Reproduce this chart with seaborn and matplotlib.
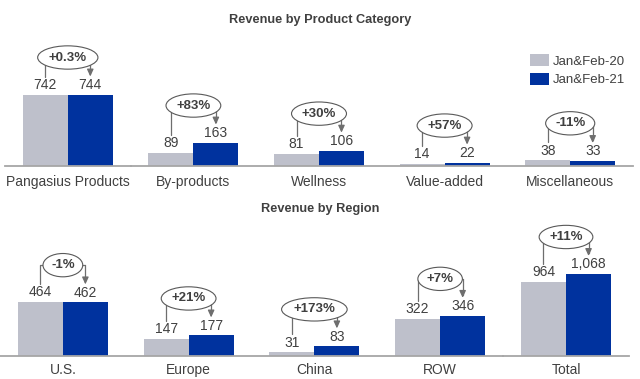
import matplotlib
matplotlib.use("Agg")
import matplotlib.pyplot as plt
import numpy as np
import pandas as pd
import seaborn as sns
from matplotlib.lines import Line2D
from matplotlib.patches import Patch

# ---------------- data ----------------
periods = ["Jan&Feb-20", "Jan&Feb-21"]
products = ["Pangasius Products", "By-products", "Wellness", "Value-added", "Miscellaneous"]
prod_2020 = [742, 89, 81, 14, 38]
prod_2021 = [744, 163, 106, 22, 33]
prod_change = ["+0.3%", "+83%", "+30%", "+57%", "-11%"]
regions = ["U.S.", "Europe", "China", "ROW", "Total"]
reg_2020 = [464, 147, 31, 322, 964]
reg_2021 = [462, 177, 83, 346, 1068]
reg_change = ["-1%", "+21%", "+173%", "+7%", "+11%"]

# ---------------- style ----------------
sns.set_theme(style="white")
plt.rcParams["font.family"] = ["Liberation Sans", "DejaVu Sans"]
GRAY = "#BEC0CB"
BLUE = "#00329E"
TXT = "#404040"
LINE = "#6E6E6E"
W, H = 640, 379

fig = plt.figure(figsize=(6.4, 3.79), dpi=100)


def px_axes(x0, x1, ytop, ybase):
    return fig.add_axes([x0 / W, (H - ybase) / H, (x1 - x0) / W, (ybase - ytop) / H])


def long_df(cats, a, b):
    return pd.DataFrame({
        "category": list(cats) * 2,
        "period": [periods[0]] * len(cats) + [periods[1]] * len(cats),
        "revenue": list(a) + list(b),
    })


def draw(ax, cats, a, b, ymax, pad):
    df = long_df(cats, a, b)
    sns.barplot(data=df, x="category", y="revenue", hue="period", hue_order=periods,
                palette=[GRAY, BLUE], width=0.716, saturation=1, ax=ax, legend=False,
                edgecolor="none", errorbar=None)
    ax.set_xlim(-0.5, len(cats) - 0.5)
    ax.set_ylim(0, ymax)
    ax.set_xlabel("")
    ax.set_ylabel("")
    ax.set_yticks([])
    for s in ["top", "left", "right"]:
        ax.spines[s].set_visible(False)
    ax.spines["bottom"].set_color("#A6A6A6")
    ax.spines["bottom"].set_linewidth(1.3)
    ax.tick_params(axis="x", length=0, pad=pad, labelsize=10, labelcolor=TXT)
    ax.set_facecolor("none")
    for c in ax.containers:
        ax.bar_label(c, fmt="{:,.0f}", padding=2, fontsize=10, color=TXT)


def annotate(ax, changes):
    g, b = ax.containers[0], ax.containers[1]
    for i, lab in enumerate(changes):
        bg, bb = g[i], b[i]
        xg, yg = ax.transData.transform((bg.get_x() + bg.get_width() / 2, bg.get_height()))
        xb, yb = ax.transData.transform((bb.get_x() + bb.get_width() / 2, bb.get_height()))
        yc = max(yg, yb) + 37
        yl = yg + 18
        yr = yb + 18
        fig.add_artist(Line2D([xg / W, xg / W, xb / W], [yl / H, yc / H, yc / H],
                              transform=fig.transFigure, color=LINE, lw=0.9))
        fig.add_artist(Line2D([xb / W, xb / W], [yc / H, (yr + 3) / H],
                              transform=fig.transFigure, color=LINE, lw=0.9))
        ax.annotate("", xy=(xb / W, yr / H), xytext=(xb / W, (yr + 5) / H),
                    xycoords="figure fraction", annotation_clip=False,
                    arrowprops=dict(arrowstyle="-|>,head_length=0.35,head_width=0.16",
                                    color=LINE, lw=0.9, shrinkA=0, shrinkB=0))
        fig.text((xg + xb) / 2 / W, yc / H, lab, ha="center", va="center",
                 fontsize=9.5, fontweight="bold", color=TXT, zorder=5,
                 bbox=dict(boxstyle="ellipse,pad=0.17", fc="white", ec="#595959", lw=0.8))


ax1 = px_axes(5, 130.6, 30, 165.7)
ax2 = px_axes(130.6, 633, 30, 165.7)
ax3 = px_axes(0, 503, 225, 356)
ax4 = px_axes(503, 629, 225, 356)

draw(ax1, products[:1], prod_2020[:1], prod_2021[:1], 1418, 7)
draw(ax2, products[1:], prod_2020[1:], prod_2021[1:], 955, 7)
draw(ax3, regions[:4], reg_2020[:4], reg_2021[:4], 1129, 5)
draw(ax4, regions[4:], reg_2020[4:], reg_2021[4:], 1706, 5)

annotate(ax1, prod_change[:1])
annotate(ax2, prod_change[1:])
annotate(ax3, reg_change[:4])
annotate(ax4, reg_change[4:])

fig.text(0.5, 1 - 20 / H, "Revenue by Product Category", ha="center", va="center",
         fontsize=9.2, fontweight="bold", color=TXT)
fig.text(0.5, 1 - 209 / H, "Revenue by Region", ha="center", va="center",
         fontsize=9.2, fontweight="bold", color=TXT)

handles = [Patch(facecolor=GRAY, edgecolor="none"), Patch(facecolor=BLUE, edgecolor="none")]
fig.legend(handles, periods, loc="upper right", bbox_to_anchor=(630 / W, 1 - 49 / H),
           frameon=False, handlelength=1.4, handleheight=1.0, fontsize=9.5,
           labelcolor=TXT, handletextpad=0.3, borderaxespad=0, labelspacing=0.4)

fig.savefig("out.png", dpi=100)
